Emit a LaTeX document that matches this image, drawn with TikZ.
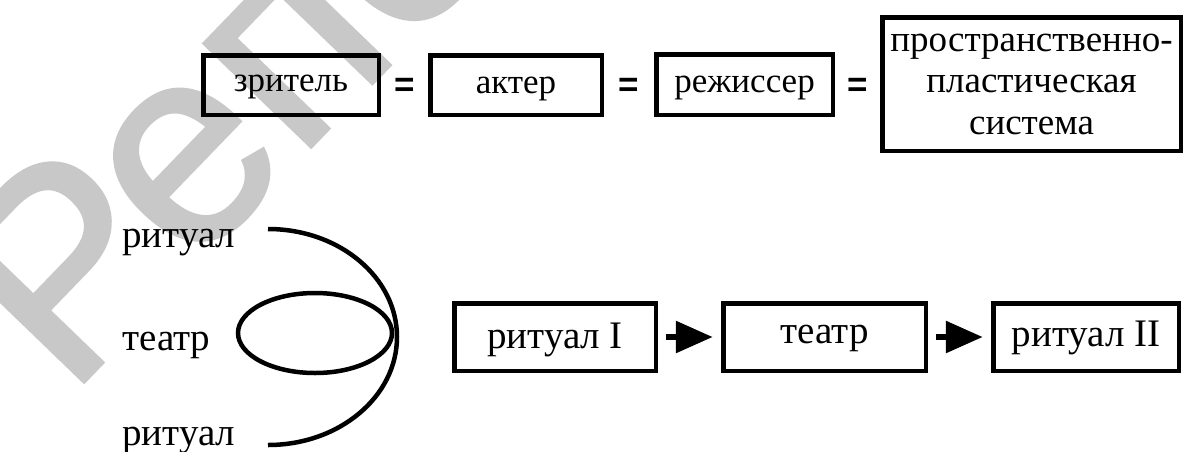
\documentclass[tikz,border=0pt]{standalone}
\usepackage{fontspec}
\setmainfont{Liberation Serif}
\newfontfamily\wmfont[FakeBold=1.5]{Liberation Sans}
\newfontfamily\eqfont{Liberation Sans}
\usetikzlibrary{arrows.meta,calc}
\definecolor{wmgray}{RGB}{200,200,200}
\begin{document}
\begin{tikzpicture}[x=1pt,y=-1pt,
  box/.style={draw, line width=4.5pt, inner sep=0pt},
  topfont/.style={font=\fontsize{35}{42}\selectfont},
  botfont/.style={font=\fontsize{39}{46}\selectfont},
  bigfont/.style={font=\fontsize{37}{41.5}\selectfont},
  lbl/.style={font=\fontsize{39}{46}\selectfont, inner sep=0pt, anchor=base west},
  eq/.style={font=\eqfont\bfseries\fontsize{35}{40}\selectfont, inner sep=0pt, anchor=base},
  curve/.style={line width=4.5pt},
  arr/.style={line width=6pt, -{Triangle[length=37pt,width=31pt]}, shorten <=8.25pt, shorten >=8.25pt},
  wmstyle/.style={text=wmgray, font=\wmfont\fontsize{280}{280}\selectfont, inner sep=0pt}
]
\useasboundingbox (0,0) rectangle (1184,451);
\clip (0,0) rectangle (1184,451);
% watermark
\node[wmstyle, rotate=46, anchor=base west] (wm) at (68,398) {Репозиторий БГУ};
% top row
\node[box, topfont, minimum width=175.5pt, minimum height=59.5pt, text height=20pt, text depth=8pt] (zr) at (291,85) {зритель};
\node[box, topfont, minimum width=171.5pt, minimum height=59.5pt, text height=24pt, text depth=8pt] (ak) at (516,85) {актер};
\node[box, topfont, minimum width=176.5pt, minimum height=60.5pt, text height=23pt, text depth=8pt] (rz) at (744.5,84.5) {режиссер};
\node[box, bigfont, minimum width=298.5pt, minimum height=133.5pt, align=center] (ps) at (1031.5,84) {пространственно-\\пластическая\\система};
\path (zr.east) -- coordinate (m1) (ak.west);
\path (ak.east) -- coordinate (m2) (rz.west);
\path (rz.east) -- coordinate (m3) (ps.west);
\node[eq] (e1) at (m1 |- 0,96) {=};
\node[eq] (e2) at (m2 |- 0,96) {=};
\node[eq] (e3) at (m3 |- 0,96) {=};
% left labels and loop
\node[lbl] (l1) at (122,247) {ритуал};
\node[lbl] (l2) at (122,350) {театр};
\node[lbl] (l3) at (122,445) {ритуал};
\draw[curve] (268,229) arc[start angle=-90, end angle=90, x radius=129, y radius=108];
\draw[curve] (315,333) ellipse[x radius=77, y radius=40];
% bottom row
\node[box, botfont, minimum width=201.5pt, minimum height=67.5pt, text height=31pt, text depth=9pt] (r1) at (555,337) {ритуал I};
\node[box, botfont, minimum width=202.5pt, minimum height=67.5pt, text height=21pt, text depth=9pt] (t2) at (824.5,337) {театр};
\node[box, botfont, minimum width=185.5pt, minimum height=67.5pt, text height=27pt, text depth=9pt] (r3) at (1086,337) {ритуал II};
\draw[arr] (r1.east) -- (t2.west);
\draw[arr] (t2.east) -- (r3.west);
\end{tikzpicture}
\end{document}
